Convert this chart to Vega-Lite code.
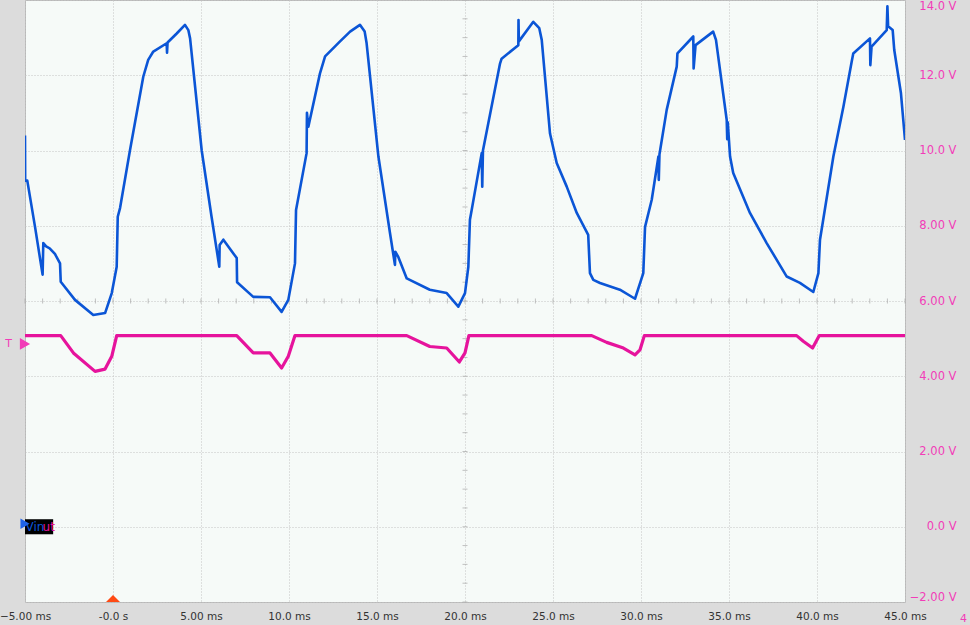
{
  "$schema": "https://vega.github.io/schema/vega-lite/v6.json",
  "width": 880,
  "height": 602,
  "autosize": {"type": "none"},
  "padding": {"left": 25, "top": 0, "right": 65, "bottom": 23},
  "background": "#dcdcdc",
  "config": {
    "view": {"fill": "#f6faf8", "stroke": "#b8b8b8", "strokeWidth": 1},
    "font": "DejaVu Sans"
  },
  "datasets": {
    "traces": [
      {"ch": "Vin", "t": -5.0, "v": 10.4}, {"ch": "Vin", "t": -4.99, "v": 9.2}, {"ch": "Vin", "t": -4.87, "v": 9.2},
      {"ch": "Vin", "t": -4.43, "v": 7.97}, {"ch": "Vin", "t": -4.0, "v": 6.7}, {"ch": "Vin", "t": -3.96, "v": 7.54},
      {"ch": "Vin", "t": -3.8, "v": 7.45}, {"ch": "Vin", "t": -3.6, "v": 7.4}, {"ch": "Vin", "t": -3.3, "v": 7.25},
      {"ch": "Vin", "t": -3.01, "v": 7.0}, {"ch": "Vin", "t": -2.97, "v": 6.51}, {"ch": "Vin", "t": -2.16, "v": 6.03},
      {"ch": "Vin", "t": -1.12, "v": 5.63}, {"ch": "Vin", "t": -0.45, "v": 5.68}, {"ch": "Vin", "t": -0.07, "v": 6.21},
      {"ch": "Vin", "t": 0.21, "v": 6.91}, {"ch": "Vin", "t": 0.27, "v": 8.24}, {"ch": "Vin", "t": 0.4, "v": 8.47},
      {"ch": "Vin", "t": 0.97, "v": 10.02}, {"ch": "Vin", "t": 1.72, "v": 11.96}, {"ch": "Vin", "t": 2.0, "v": 12.41},
      {"ch": "Vin", "t": 2.29, "v": 12.63}, {"ch": "Vin", "t": 3.05, "v": 12.85}, {"ch": "Vin", "t": 3.07, "v": 12.6},
      {"ch": "Vin", "t": 3.1, "v": 12.87}, {"ch": "Vin", "t": 3.62, "v": 13.11}, {"ch": "Vin", "t": 4.09, "v": 13.34},
      {"ch": "Vin", "t": 4.28, "v": 13.2}, {"ch": "Vin", "t": 4.38, "v": 12.98}, {"ch": "Vin", "t": 5.04, "v": 10.0},
      {"ch": "Vin", "t": 5.6, "v": 8.24}, {"ch": "Vin", "t": 6.04, "v": 6.91}, {"ch": "Vin", "t": 6.06, "v": 7.49},
      {"ch": "Vin", "t": 6.27, "v": 7.63}, {"ch": "Vin", "t": 7.03, "v": 7.14}, {"ch": "Vin", "t": 7.05, "v": 6.5},
      {"ch": "Vin", "t": 7.97, "v": 6.11}, {"ch": "Vin", "t": 8.92, "v": 6.1}, {"ch": "Vin", "t": 9.58, "v": 5.71},
      {"ch": "Vin", "t": 9.96, "v": 6.03}, {"ch": "Vin", "t": 10.34, "v": 7.0}, {"ch": "Vin", "t": 10.4, "v": 8.42},
      {"ch": "Vin", "t": 11.0, "v": 9.93}, {"ch": "Vin", "t": 11.02, "v": 11.0}, {"ch": "Vin", "t": 11.1, "v": 10.63},
      {"ch": "Vin", "t": 11.76, "v": 12.05}, {"ch": "Vin", "t": 12.05, "v": 12.5}, {"ch": "Vin", "t": 12.9, "v": 12.9},
      {"ch": "Vin", "t": 13.47, "v": 13.16}, {"ch": "Vin", "t": 14.03, "v": 13.34}, {"ch": "Vin", "t": 14.3, "v": 13.16},
      {"ch": "Vin", "t": 14.41, "v": 12.85}, {"ch": "Vin", "t": 15.08, "v": 9.84}, {"ch": "Vin", "t": 15.74, "v": 7.8},
      {"ch": "Vin", "t": 16.02, "v": 6.96}, {"ch": "Vin", "t": 16.04, "v": 7.31}, {"ch": "Vin", "t": 16.21, "v": 7.17},
      {"ch": "Vin", "t": 16.69, "v": 6.6}, {"ch": "Vin", "t": 18.0, "v": 6.3}, {"ch": "Vin", "t": 18.96, "v": 6.21},
      {"ch": "Vin", "t": 19.62, "v": 5.85}, {"ch": "Vin", "t": 20.0, "v": 6.21}, {"ch": "Vin", "t": 20.19, "v": 6.91},
      {"ch": "Vin", "t": 20.28, "v": 8.16}, {"ch": "Vin", "t": 20.38, "v": 8.42}, {"ch": "Vin", "t": 20.95, "v": 9.93},
      {"ch": "Vin", "t": 20.98, "v": 9.04}, {"ch": "Vin", "t": 21.02, "v": 10.0}, {"ch": "Vin", "t": 21.99, "v": 12.31},
      {"ch": "Vin", "t": 22.08, "v": 12.44}, {"ch": "Vin", "t": 23.03, "v": 12.8}, {"ch": "Vin", "t": 23.04, "v": 13.47},
      {"ch": "Vin", "t": 23.06, "v": 12.9}, {"ch": "Vin", "t": 23.88, "v": 13.42}, {"ch": "Vin", "t": 24.22, "v": 13.25},
      {"ch": "Vin", "t": 24.36, "v": 12.94}, {"ch": "Vin", "t": 24.83, "v": 10.45}, {"ch": "Vin", "t": 25.21, "v": 9.67},
      {"ch": "Vin", "t": 25.78, "v": 9.04}, {"ch": "Vin", "t": 26.35, "v": 8.34}, {"ch": "Vin", "t": 27.0, "v": 7.76},
      {"ch": "Vin", "t": 27.1, "v": 6.74}, {"ch": "Vin", "t": 27.29, "v": 6.56}, {"ch": "Vin", "t": 27.67, "v": 6.48},
      {"ch": "Vin", "t": 28.8, "v": 6.3}, {"ch": "Vin", "t": 29.66, "v": 6.06}, {"ch": "Vin", "t": 30.13, "v": 6.74},
      {"ch": "Vin", "t": 30.23, "v": 7.97}, {"ch": "Vin", "t": 30.61, "v": 8.69}, {"ch": "Vin", "t": 30.99, "v": 9.84},
      {"ch": "Vin", "t": 31.01, "v": 9.22}, {"ch": "Vin", "t": 31.05, "v": 9.9}, {"ch": "Vin", "t": 31.46, "v": 11.08},
      {"ch": "Vin", "t": 32.03, "v": 12.23}, {"ch": "Vin", "t": 32.07, "v": 12.58}, {"ch": "Vin", "t": 32.97, "v": 13.03},
      {"ch": "Vin", "t": 32.99, "v": 12.18}, {"ch": "Vin", "t": 33.1, "v": 12.8}, {"ch": "Vin", "t": 34.1, "v": 13.16},
      {"ch": "Vin", "t": 34.26, "v": 12.94}, {"ch": "Vin", "t": 34.87, "v": 10.81}, {"ch": "Vin", "t": 34.9, "v": 10.3},
      {"ch": "Vin", "t": 34.93, "v": 10.75}, {"ch": "Vin", "t": 35.06, "v": 9.84}, {"ch": "Vin", "t": 35.24, "v": 9.4},
      {"ch": "Vin", "t": 36.19, "v": 8.34}, {"ch": "Vin", "t": 37.14, "v": 7.54}, {"ch": "Vin", "t": 38.28, "v": 6.65},
      {"ch": "Vin", "t": 39.03, "v": 6.48}, {"ch": "Vin", "t": 39.79, "v": 6.24}, {"ch": "Vin", "t": 40.08, "v": 6.74},
      {"ch": "Vin", "t": 40.17, "v": 7.63}, {"ch": "Vin", "t": 40.93, "v": 9.84}, {"ch": "Vin", "t": 41.5, "v": 11.16},
      {"ch": "Vin", "t": 41.97, "v": 12.36}, {"ch": "Vin", "t": 42.06, "v": 12.58}, {"ch": "Vin", "t": 43.01, "v": 12.98},
      {"ch": "Vin", "t": 43.03, "v": 12.27}, {"ch": "Vin", "t": 43.1, "v": 12.76}, {"ch": "Vin", "t": 43.96, "v": 13.2},
      {"ch": "Vin", "t": 44.0, "v": 13.83}, {"ch": "Vin", "t": 44.04, "v": 13.3}, {"ch": "Vin", "t": 44.3, "v": 13.2},
      {"ch": "Vin", "t": 44.39, "v": 12.67}, {"ch": "Vin", "t": 44.77, "v": 11.52}, {"ch": "Vin", "t": 45.0, "v": 10.28},
      {"ch": "Vout", "t": -5.0, "v": 5.08}, {"ch": "Vout", "t": -2.97, "v": 5.08}, {"ch": "Vout", "t": -2.25, "v": 4.62},
      {"ch": "Vout", "t": -1.02, "v": 4.13}, {"ch": "Vout", "t": -0.45, "v": 4.19}, {"ch": "Vout", "t": -0.07, "v": 4.53},
      {"ch": "Vout", "t": 0.21, "v": 5.08}, {"ch": "Vout", "t": 7.03, "v": 5.08}, {"ch": "Vout", "t": 7.97, "v": 4.62},
      {"ch": "Vout", "t": 8.92, "v": 4.62}, {"ch": "Vout", "t": 9.58, "v": 4.22}, {"ch": "Vout", "t": 9.96, "v": 4.53},
      {"ch": "Vout", "t": 10.34, "v": 5.08}, {"ch": "Vout", "t": 16.69, "v": 5.08}, {"ch": "Vout", "t": 18.0, "v": 4.79},
      {"ch": "Vout", "t": 18.96, "v": 4.75}, {"ch": "Vout", "t": 19.68, "v": 4.38}, {"ch": "Vout", "t": 20.0, "v": 4.62},
      {"ch": "Vout", "t": 20.22, "v": 5.08}, {"ch": "Vout", "t": 27.2, "v": 5.08}, {"ch": "Vout", "t": 28.05, "v": 4.9},
      {"ch": "Vout", "t": 29.0, "v": 4.75}, {"ch": "Vout", "t": 29.66, "v": 4.57}, {"ch": "Vout", "t": 29.94, "v": 4.7},
      {"ch": "Vout", "t": 30.19, "v": 5.08}, {"ch": "Vout", "t": 38.84, "v": 5.08}, {"ch": "Vout", "t": 39.22, "v": 4.93},
      {"ch": "Vout", "t": 39.75, "v": 4.75}, {"ch": "Vout", "t": 40.13, "v": 5.08}, {"ch": "Vout", "t": 45.0, "v": 5.08}
    ],
    "hticks": [
      {"t": -5}, {"t": -4}, {"t": -3}, {"t": -2}, {"t": -1}, {"t": 0}, {"t": 1}, {"t": 2}, {"t": 3}, {"t": 4},
      {"t": 5}, {"t": 6}, {"t": 7}, {"t": 8}, {"t": 9}, {"t": 10}, {"t": 11}, {"t": 12}, {"t": 13}, {"t": 14},
      {"t": 15}, {"t": 16}, {"t": 17}, {"t": 18}, {"t": 19}, {"t": 20}, {"t": 21}, {"t": 22}, {"t": 23}, {"t": 24},
      {"t": 25}, {"t": 26}, {"t": 27}, {"t": 28}, {"t": 29}, {"t": 30}, {"t": 31}, {"t": 32}, {"t": 33}, {"t": 34},
      {"t": 35}, {"t": 36}, {"t": 37}, {"t": 38}, {"t": 39}, {"t": 40}, {"t": 41}, {"t": 42}, {"t": 43}, {"t": 44},
      {"t": 45}
    ],
    "vticks": [
      {"v": -2}, {"v": -1.5}, {"v": -1}, {"v": -0.5}, {"v": 0}, {"v": 0.5}, {"v": 1}, {"v": 1.5}, {"v": 2}, {"v": 2.5},
      {"v": 3}, {"v": 3.5}, {"v": 4}, {"v": 4.5}, {"v": 5}, {"v": 5.5}, {"v": 6}, {"v": 6.5}, {"v": 7}, {"v": 7.5},
      {"v": 8}, {"v": 8.5}, {"v": 9}, {"v": 9.5}, {"v": 10}, {"v": 10.5}, {"v": 11}, {"v": 11.5}, {"v": 12}, {"v": 12.5},
      {"v": 13}, {"v": 13.5}, {"v": 14}
    ]
  },
  "layer": [
    {
      "data": {"name": "hticks"},
      "mark": {"type": "tick", "orient": "vertical", "size": 5, "thickness": 1, "color": "#a8a8a8"},
      "encoding": {
        "x": {
          "field": "t", "type": "quantitative",
          "scale": {"domain": [-5, 45], "nice": false, "zero": false},
          "axis": {
            "values": [-5, 0, 5, 10, 15, 20, 25, 30, 35, 40, 45],
            "title": null, "domain": false, "ticks": false,
            "grid": true, "gridColor": "#c4c4c4", "gridDash": [1, 2], "gridWidth": 1,
            "labelColor": "#333333", "labelFontSize": 10.5, "labelPadding": 9,
            "labelBaseline": "top", "labelOverlap": false, "labelBound": false, "labelFlush": false,
            "labelExpr": "datum.value == 0 ? '-0.0 s' : abs(datum.value) < 10 ? format(datum.value, '.2f') + ' ms' : format(datum.value, '.1f') + ' ms'"
          }
        },
        "y": {
          "datum": 6, "type": "quantitative",
          "scale": {"domain": [-2, 14], "nice": false, "zero": false},
          "axis": {
            "orient": "right",
            "values": [-2, 0, 2, 4, 6, 8, 10, 12, 14],
            "title": null, "domain": false, "ticks": false,
            "grid": true, "gridColor": "#c4c4c4", "gridDash": [1, 2], "gridWidth": 1,
            "labelColor": "#f23cb8", "labelFontSize": 11.5, "labelPadding": 51,
            "labelAlign": "right", "labelFlush": true, "labelOverlap": false,
            "labelExpr": "(abs(datum.value) >= 10 || datum.value == 0 ? format(datum.value, '.1f') : format(datum.value, '.2f')) + ' V'"
          }
        }
      }
    },
    {
      "data": {"name": "vticks"},
      "mark": {"type": "tick", "orient": "horizontal", "size": 5, "thickness": 1, "color": "#a8a8a8"},
      "encoding": {
        "x": {"datum": 20, "type": "quantitative"},
        "y": {"field": "v", "type": "quantitative"}
      }
    },
    {
      "data": {"name": "traces"},
      "mark": {"type": "line", "strokeJoin": "round", "clip": true},
      "encoding": {
        "x": {"field": "t", "type": "quantitative"},
        "y": {"field": "v", "type": "quantitative"},
        "detail": {"field": "ch"},
        "order": {"value": null},
        "color": {
          "field": "ch", "type": "nominal",
          "scale": {"domain": ["Vin", "Vout"], "range": ["#0b55d6", "#e6139c"]},
          "legend": null
        },
        "strokeWidth": {
          "field": "ch", "type": "nominal",
          "scale": {"domain": ["Vin", "Vout"], "range": [2.6, 3.2]},
          "legend": null
        }
      }
    },
    {
      "data": {"values": [{"t": -5, "v1": 0.2, "v2": -0.2}]},
      "mark": {"type": "rect", "color": "#000000"},
      "encoding": {
        "x": {"field": "t", "type": "quantitative"},
        "x2": {"datum": -3.4},
        "y": {"field": "v1", "type": "quantitative"},
        "y2": {"field": "v2"}
      }
    },
    {
      "data": {"values": [
        {"t": -4.97, "v": 0, "label": "Vin", "ch": "Vin"},
        {"t": -4.0, "v": 0, "label": "ut", "ch": "Vout"}
      ]},
      "mark": {"type": "text", "align": "left", "baseline": "middle", "fontSize": 12},
      "encoding": {
        "x": {"field": "t", "type": "quantitative"},
        "y": {"field": "v", "type": "quantitative"},
        "text": {"field": "label"},
        "color": {"field": "ch", "type": "nominal", "scale": {"domain": ["Vin", "Vout"], "range": ["#2a5cff", "#e6139c"]}, "legend": null}
      }
    },
    {
      "data": {"values": [{"t": -5, "v": 0.08}]},
      "mark": {"type": "point", "shape": "triangle-right", "filled": true, "size": 110, "color": "#1f63e8", "dx": -4, "opacity": 1, "clip": false},
      "encoding": {
        "x": {"field": "t", "type": "quantitative"},
        "y": {"field": "v", "type": "quantitative"}
      }
    },
    {
      "data": {"values": [{"t": -5, "v": 4.86}]},
      "mark": {"type": "point", "shape": "triangle-right", "filled": true, "size": 140, "color": "#f23cb8", "dx": -7, "opacity": 1, "clip": false},
      "encoding": {
        "x": {"field": "t", "type": "quantitative"},
        "y": {"field": "v", "type": "quantitative"}
      }
    },
    {
      "data": {"values": [{"t": -5, "v": 4.86, "label": "T"}]},
      "mark": {"type": "text", "align": "right", "baseline": "middle", "fontSize": 11, "color": "#f23cb8", "dx": -13},
      "encoding": {
        "x": {"field": "t", "type": "quantitative"},
        "y": {"field": "v", "type": "quantitative"},
        "text": {"field": "label"}
      }
    },
    {
      "data": {"values": [{"t": 0, "v": -1.905}]},
      "mark": {"type": "point", "shape": "M-1,0.5L0,-0.5L1,0.5Z", "filled": true, "size": 196, "color": "#ff4a14", "opacity": 1},
      "encoding": {
        "x": {"field": "t", "type": "quantitative"},
        "y": {"field": "v", "type": "quantitative"}
      }
    },
    {
      "data": {"values": [{"t": 45, "v": -2, "label": "4"}]},
      "mark": {"type": "text", "align": "left", "baseline": "top", "fontSize": 11, "color": "#f23cb8", "dx": 55, "dy": 11},
      "encoding": {
        "x": {"field": "t", "type": "quantitative"},
        "y": {"field": "v", "type": "quantitative"},
        "text": {"field": "label"}
      }
    }
  ]
}
